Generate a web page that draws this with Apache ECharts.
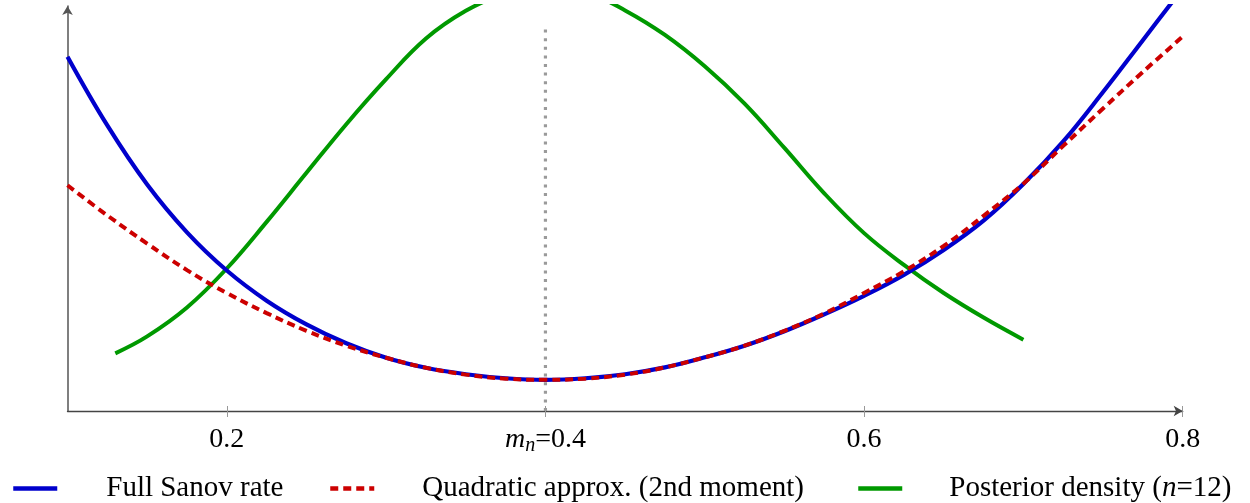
<!DOCTYPE html>
<html>
<head>
<meta charset="utf-8">
<script src="https://cdn.jsdelivr.net/npm/echarts@6/dist/echarts.min.js"></script>
<style>
html,body{margin:0;padding:0;background:#fff;}
#chart{width:1250px;height:503px;}
</style>
</head>
<body>
<div id="chart"></div>
<script>
// ---- data ----
const tickValues = [0.2, 0.4, 0.6, 0.8];
const tickLabels = ['0.2', 'mn=0.4', '0.6', '0.8'];

const gridX = [0.100,0.125,0.150,0.175,0.200,0.225,0.250,0.275,0.300,0.325,0.350,0.375,0.400,0.425,0.450,0.475,0.500,0.525,0.550,0.575,0.600,0.625,0.650,0.675,0.700,0.725,0.750,0.775,0.800];

const sanovY = [0.874,0.703,0.556,0.437,0.342,0.267,0.208,0.161,0.125,0.100,0.084,0.074,0.070,0.074,0.084,0.101,0.126,0.155,0.191,0.233,0.279,0.331,0.393,0.466,0.557,0.663,0.786,0.915,1.044];

const quadY = [0.554,0.479,0.409,0.343,0.286,0.236,0.192,0.155,0.125,0.100,0.083,0.073,0.070,0.073,0.083,0.101,0.126,0.155,0.192,0.235,0.286,0.340,0.403,0.478,0.558,0.652,0.745,0.836,0.924];

const postX = [0.130,0.150,0.175,0.200,0.225,0.250,0.275,0.300,0.325,0.350,0.375,0.400,0.425,0.450,0.475,0.500,0.525,0.550,0.575,0.600,0.625,0.650,0.675,0.700];
const postY = [0.136,0.178,0.250,0.347,0.463,0.585,0.706,0.818,0.919,0.988,1.032,1.055,1.036,0.989,0.928,0.850,0.757,0.647,0.534,0.435,0.356,0.286,0.225,0.170];

const meanX = [0.4, 0.4];
const meanY = [-0.0075, 0.948];

const seriesNames = ['Full Sanov rate', 'Quadratic approx. (2nd moment)', 'Posterior density (n=12)'];

// ---- chart ----
const zip = (xs, ys) => xs.map((x, i) => [x, ys[i]]);
const FONT = "'Liberation Serif', 'DejaVu Serif', serif";
const BLUE = '#0000cc', RED = '#cc0000', GREEN = '#009900';

const chart = echarts.init(document.getElementById('chart'), null, {renderer: 'canvas'});

function legendCfg(idx, left, gap) {
  const name = seriesNames[idx];
  return {
    data: [name],
    left: left,
    top: 474,
    orient: 'horizontal',
    itemWidth: 44,
    itemHeight: 14,
    padding: 0,
    selectedMode: false,
    itemStyle: {opacity: 0},
    lineStyle: {width: 4.5},
    formatter: function (n) {
      if (n.indexOf('(n=12)') >= 0) {
        return '{g| }{a|Posterior density (}{i|n}{a|=12)}';
      }
      return '{g| }{a|' + n + '}';
    },
    textStyle: {
      fontFamily: FONT,
      fontSize: 29,
      color: '#000',
      rich: {
        g: {width: gap, fontSize: 29, fontFamily: FONT},
        a: {fontSize: 29, fontFamily: FONT, color: '#000'},
        i: {fontSize: 29, fontFamily: FONT, fontStyle: 'italic', color: '#000'}
      }
    }
  };
}

const option = {
  animation: false,
  backgroundColor: '#fff',
  grid: {left: 67.5, right: 67.3, top: 6, bottom: 92, containLabel: false},
  legend: [
    legendCfg(0, 11, 44),
    legendCfg(1, 328, 43),
    legendCfg(2, 856, 42)
  ],
  xAxis: [{
    type: 'value',
    min: 0.1,
    max: 0.8,
    position: 'bottom',
    splitLine: {show: false},
    axisLine: {
      show: true, onZero: false,
      symbol: ['none', 'arrow'], symbolSize: [8, 9],
      lineStyle: {color: '#444', width: 1.3}
    },
    axisTick: {show: true, customValues: tickValues, length: 6, lineStyle: {color: '#999', width: 1}},
    axisLabel: {
      show: true,
      customValues: tickValues,
      margin: 12,
      fontFamily: FONT,
      fontSize: 28,
      color: '#000',
      formatter: function (v) {
        let k = -1;
        tickValues.forEach((t, i) => { if (Math.abs(t - v) < 1e-6) k = i; });
        const lab = k >= 0 ? tickLabels[k] : '';
        if (lab.indexOf('mn=') === 0) {
          return '{m|m}{s|n}{t|' + lab.slice(2) + '}';
        }
        return '{t|' + lab + '}';
      },
      rich: {
        t: {fontFamily: FONT, fontSize: 28, color: '#000', lineHeight: 34},
        m: {fontFamily: FONT, fontSize: 28, fontStyle: 'italic', color: '#000', lineHeight: 34},
        s: {fontFamily: FONT, fontSize: 20, fontStyle: 'italic', color: '#000', lineHeight: 34, padding: [12, 0, 0, 0]}
      }
    }
  }, {
    type: 'value',
    min: 0.1,
    max: 0.8,
    position: 'bottom',
    splitLine: {show: false},
    axisLine: {show: false, onZero: false},
    axisLabel: {show: false},
    axisTick: {show: true, inside: true, customValues: tickValues, length: 5, lineStyle: {color: '#999', width: 1}}
  }],
  yAxis: {
    type: 'value',
    min: -0.0075,
    max: 1,
    splitLine: {show: false},
    axisLabel: {show: false},
    axisTick: {show: false},
    axisLine: {
      show: true, onZero: false,
      symbol: ['none', 'arrow'], symbolSize: [8, 9],
      lineStyle: {color: '#555', width: 1.5}
    }
  },
  series: [
    {
      name: 'mean',
      type: 'line',
      data: zip(meanX, meanY),
      showSymbol: false,
      symbol: 'none',
      silent: true,
      z: 1,
      lineStyle: {color: '#9a9a9a', width: 3.2, type: [3, 5.6]}
    },
    {
      name: seriesNames[2],
      type: 'line',
      data: zip(postX, postY),
      smooth: 0.4,
      symbol: 'none',
      z: 2,
      color: GREEN,
      lineStyle: {color: GREEN, width: 4}
    },
    {
      name: seriesNames[0],
      type: 'line',
      data: zip(gridX, sanovY),
      smooth: 0.4,
      symbol: 'none',
      z: 3,
      color: BLUE,
      lineStyle: {color: BLUE, width: 4.2}
    },
    {
      name: seriesNames[1],
      type: 'line',
      data: zip(gridX, quadY),
      smooth: 0.4,
      symbol: 'none',
      z: 4,
      color: RED,
      lineStyle: {color: RED, width: 4, type: [8, 5]}
    }
  ]
};
chart.setOption(option);
</script>
</body>
</html>
